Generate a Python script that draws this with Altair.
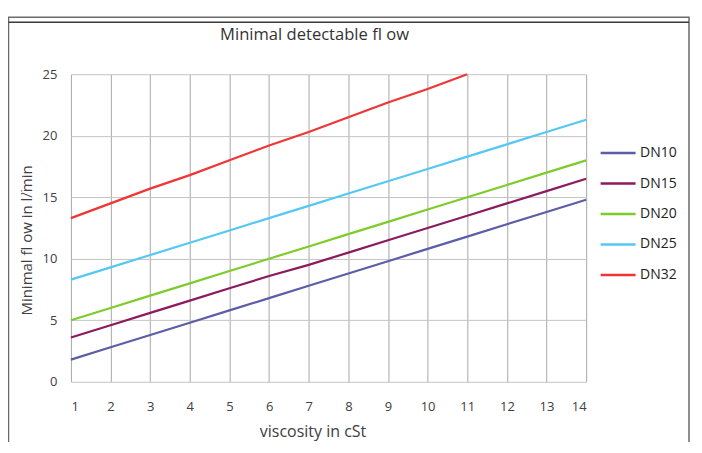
import altair as alt
import pandas as pd

viscosity = [1, 2, 3, 4, 5, 6, 7, 8, 9, 10, 11, 12, 13, 14]
dn10 = [1.8, 2.8, 3.8, 4.8, 5.8, 6.8, 7.8, 8.8, 9.8, 10.8, 11.8, 12.8, 13.8, 14.8]
dn15 = [3.6, 4.6, 5.6, 6.6, 7.6, 8.6, 9.5, 10.5, 11.5, 12.5, 13.5, 14.5, 15.5, 16.5]
dn20 = [5.0, 6.0, 7.0, 8.0, 9.0, 10.0, 11.0, 12.0, 13.0, 14.0, 15.0, 16.0, 17.0, 18.0]
dn25 = [8.3, 9.3, 10.3, 11.3, 12.3, 13.3, 14.3, 15.3, 16.3, 17.3, 18.3, 19.3, 20.3, 21.3]
dn32 = [13.3, 14.5, 15.7, 16.8, 18.0, 19.2, 20.3, 21.5, 22.7, 23.8, 25.0]

series_names = ["DN10", "DN15", "DN20", "DN25", "DN32"]
series_values = [dn10, dn15, dn20, dn25, dn32]
series_colors = ["#5b5ea6", "#8b1a5e", "#7dcc2a", "#55c8f2", "#f03535"]

x_ticks = viscosity
y_ticks = [0, 5, 10, 15, 20, 25]

rows = []
for name, vals in zip(series_names, series_values):
    for x, y in zip(viscosity, vals):
        rows.append({"viscosity": x, "flow": y, "series": name})
df = pd.DataFrame(rows)

FONT = "Open Sans"
TXT = "#404040"

lines = alt.Chart(df).mark_line(strokeWidth=2.2).encode(
    x=alt.X("viscosity:Q",
            scale=alt.Scale(domain=[1, 14], nice=False, zero=False),
            axis=alt.Axis(values=x_ticks, title="viscosity in cSt", grid=True,
                          gridColor="#a8a8a8", domain=False, ticks=False,
                          labelPadding=19, titlePadding=10, titleX=242,
                          labelFont=FONT, labelFontSize=13, labelColor=TXT,
                          titleFont=FONT, titleFontSize=16, titleFontWeight="normal",
                          titleColor=TXT)),
    y=alt.Y("flow:Q",
            scale=alt.Scale(domain=[0, 25], nice=False),
            axis=alt.Axis(values=y_ticks, title="Minimal fl ow in l/\u0308min", grid=True,
                          gridColor="#c4c4c4", domain=False, ticks=False,
                          labelPadding=14, titlePadding=8, titleY=166,
                          labelFont=FONT, labelFontSize=13, labelColor=TXT,
                          titleFont=FONT, titleFontSize=15, titleFontWeight="normal",
                          titleColor=TXT)),
    color=alt.Color("series:N",
                    scale=alt.Scale(domain=series_names, range=series_colors),
                    legend=alt.Legend(title=None, orient="none", legendX=529, legendY=60,
                                      symbolType="stroke", symbolSize=1225,
                                      symbolStrokeWidth=2.5, rowPadding=4.5,
                                      labelFont=FONT, labelFontSize=14, labelColor="#222",
                                      labelOffset=3)),
)

frame = alt.Chart(alt.Data(values=[{"a": 1}])).mark_rect(
    fill="transparent", stroke="#6a6a6a", strokeWidth=1.5
).encode(
    x=alt.value(-62.5), x2=alt.value(619), y=alt.value(-57), y2=alt.value(420)
)

top_line = alt.Chart(alt.Data(values=[{"a": 1}])).mark_rule(
    stroke="#3a3a3a", strokeWidth=1.5
).encode(
    x=alt.value(-62.5), x2=alt.value(619), y=alt.value(-52)
)

chart = alt.layer(frame, top_line, lines).properties(
    width=516,
    height=308,
    title=alt.TitleParams("Minimal detectable fl ow", font=FONT, fontSize=16.6,
                          fontWeight="normal", color="#333333", offset=-27, dx=-14),
    autosize=alt.AutoSizeParams(type="none"),
    padding={"left": 63, "top": 66, "right": 108, "bottom": 60},
).configure_view(stroke="transparent")

chart.save("out.html", embed_options={"renderer": "svg", "actions": False})
